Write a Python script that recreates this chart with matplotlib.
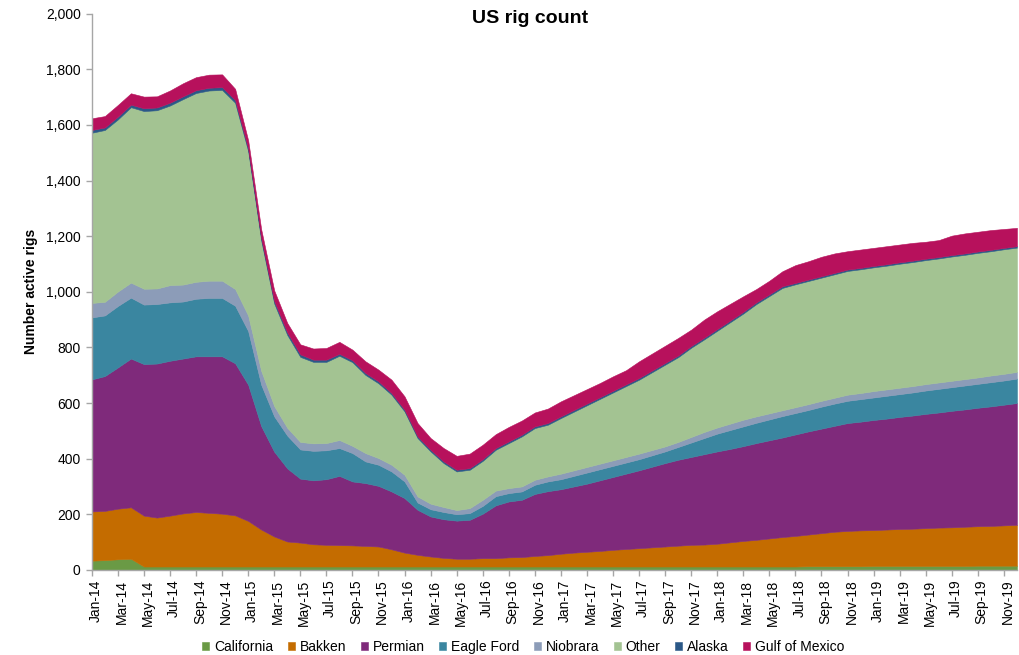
import numpy as np
import pandas as pd
import matplotlib
matplotlib.use("Agg")
import matplotlib.pyplot as plt
from matplotlib.ticker import FuncFormatter

plt.rcParams['font.family'] = ['Liberation Sans', 'DejaVu Sans']

# monthly rig counts by basin, Jan-2014 .. Dec-2019
months = pd.date_range("2014-01-01", "2019-12-01", freq="MS").strftime("%b-%y").tolist()

california = [33, 35, 38, 40, 12, 12, 12, 12, 12, 12, 12, 12,
              12, 12, 12, 12, 12, 12, 12, 12, 12, 12, 12, 12,
              12, 12, 12, 12, 12, 12, 12, 12, 12, 12, 12, 12,
              12, 12, 12, 12, 12, 12, 12, 12, 12, 12, 12, 12,
              12, 12, 12, 12, 12, 12, 12, 13, 13, 13, 13, 13,
              14, 14, 14, 14, 14, 14, 14, 14, 15, 15, 15, 15]
bakken = [177, 177, 182, 185, 183, 176, 183, 191, 196, 193, 190, 184,
          164, 133, 108, 90, 86, 80, 78, 77, 76, 74, 72, 62,
          50, 42, 36, 31, 28, 28, 30, 30, 33, 34, 38, 41,
          46, 50, 53, 56, 60, 63, 66, 69, 72, 75, 78, 79,
          82, 87, 92, 96, 101, 106, 110, 114, 119, 124, 127, 129,
          129, 131, 133, 134, 136, 138, 139, 141, 142, 143, 145, 147]
permian = [475, 485, 508, 535, 545, 554, 557, 557, 560, 563, 566, 547,
           490, 372, 305, 263, 230, 230, 236, 249, 230, 226, 218, 208,
           196, 162, 144, 139, 137, 140, 160, 190, 201, 206, 223, 230,
           232, 238, 245, 254, 262, 271, 280, 290, 300, 309, 316, 325,
           332, 336, 341, 348, 353, 358, 365, 371, 376, 381, 388, 391,
           396, 399, 403, 407, 411, 414, 419, 422, 426, 430, 434, 438]
eagle_ford = [223, 218, 221, 219, 214, 214, 210, 205, 207, 210, 210, 207,
              193, 149, 127, 118, 105, 106, 104, 100, 102, 78, 76, 72,
              60, 26, 26, 26, 23, 24, 28, 33, 30, 30, 33, 35,
              36, 38, 40, 40, 40, 40, 40, 41, 42, 46, 52, 58,
              64, 68, 71, 73, 75, 77, 77, 77, 79, 80, 80, 81,
              81, 82, 82, 83, 84, 85, 85, 86, 86, 87, 87, 88]
niobrara = [52, 49, 52, 54, 57, 56, 62, 61, 61, 62, 62, 60,
            56, 50, 37, 28, 27, 27, 26, 29, 26, 30, 24, 24,
            24, 22, 20, 18, 15, 18, 22, 20, 18, 18, 18, 18,
            20, 20, 20, 20, 20, 20, 20, 19, 18, 18, 20, 22,
            22, 23, 24, 23, 22, 21, 21, 21, 21, 21, 22, 22,
            23, 23, 23, 23, 23, 23, 23, 23, 23, 24, 24, 24]
other = [612, 618, 619, 631, 639, 641, 646, 667, 679, 684, 686, 670,
         591, 469, 369, 334, 306, 293, 292, 303, 301, 281, 269, 252,
         228, 210, 188, 158, 139, 138, 140, 147, 162, 180, 186, 186,
         200, 211, 222, 233, 244, 255, 266, 280, 294, 305, 321, 333,
         348, 365, 382, 404, 422, 440, 442, 443, 443, 444, 445, 445,
         445, 445, 446, 446, 446, 446, 447, 447, 448, 447, 448, 447]
alaska = [10, 9, 10, 9, 10, 10, 10, 10, 10, 10, 10, 10,
          9, 9, 9, 9, 9, 8, 8, 7, 7, 7, 7, 6,
          6, 6, 6, 6, 6, 6, 6, 6, 6, 6, 6, 6,
          6, 6, 6, 6, 6, 6, 6, 6, 6, 6, 6, 6,
          6, 6, 6, 6, 6, 6, 5, 5, 5, 5, 5, 5,
          5, 5, 5, 5, 5, 5, 5, 5, 5, 5, 5, 5]
gulf_of_mexico = [42, 41, 42, 41, 42, 40, 44, 47, 47, 47, 46, 40,
                  30, 31, 38, 34, 36, 40, 42, 43, 38, 42, 42, 48,
                  48, 48, 42, 48, 50, 52, 52, 50, 52, 51, 50, 52,
                  54, 53, 52, 51, 52, 51, 60, 61, 62, 63, 59, 65,
                  64, 60, 56, 48, 49, 54, 64, 66, 70, 70, 66, 66,
                  65, 65, 64, 64, 61, 61, 70, 72, 71, 71, 68, 66]

names = ["California", "Bakken", "Permian", "Eagle Ford", "Niobrara",
         "Other", "Alaska", "Gulf of Mexico"]
colors = ["#6A9A45", "#C46C00", "#7F2A7B", "#3A86A0", "#8C9CB8",
          "#A3C392", "#2B5887", "#B7115C"]
series = [california, bakken, permian, eagle_ford, niobrara,
          other, alaska, gulf_of_mexico]

x = np.arange(len(months))

fig = plt.figure(figsize=(10.2, 6.55), dpi=100)
ax = fig.add_axes([0.090, 0.130, 0.907, 0.849])

polys = ax.stackplot(x, *series, colors=colors, labels=names)
for p, c in zip(polys, colors):
    p.set_edgecolor(c)
    p.set_linewidth(0.4)

ax.set_xlim(0, len(months) - 1)
ax.set_ylim(0, 2000)
ax.set_yticks(np.arange(0, 2001, 200))
ax.yaxis.set_major_formatter(FuncFormatter(lambda v, _: f"{int(v):,}"))

# tick marks every second month; labels sit just right of each mark
ax.set_xticks(x[::2])
ax.set_xticklabels([])
ax.set_xticks(x[::2] + 0.3, minor=True)
ax.set_xticklabels(months[::2], minor=True, rotation=90)
ax.tick_params(axis="x", which="minor", length=0, labelsize=10, pad=7)

for side in ["top", "right"]:
    ax.spines[side].set_visible(False)
for side in ["left", "bottom"]:
    ax.spines[side].set_color("#A6A6A6")
    ax.spines[side].set_linewidth(1.0)
ax.tick_params(axis="both", which="major", colors="#A6A6A6", labelcolor="black",
               labelsize=10, length=4, width=1)
ax.tick_params(axis="y", pad=4)

ax.set_ylabel("Number active rigs", fontsize=10, fontweight="bold")
ax.yaxis.set_label_coords(-0.058, 0.5)

fig.text(0.52, 0.972, "US rig count", ha="center", va="center",
         fontsize=14, fontweight="bold")

fig.legend(loc="lower center", bbox_to_anchor=(0.513, -0.018), ncol=8,
           frameon=False, fontsize=10, handlelength=0.5, handleheight=0.5,
           handletextpad=0.35, columnspacing=1.05)

fig.savefig("out.png", dpi=100)
